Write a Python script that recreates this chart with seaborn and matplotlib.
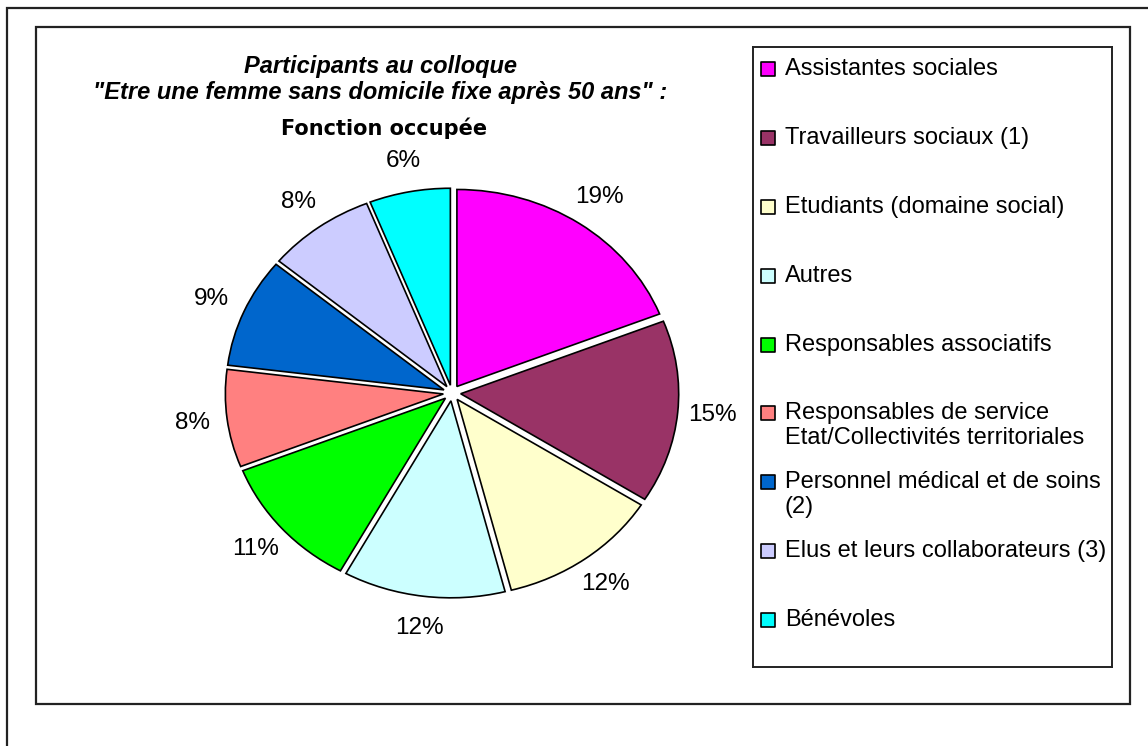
import matplotlib.pyplot as plt
import matplotlib.patches as mpatches
import seaborn as sns

# data
labels = ['Assistantes sociales', 'Travailleurs sociaux (1)', 'Etudiants (domaine social)',
          'Autres', 'Responsables associatifs',
          'Responsables de service\nEtat/Collectivités territoriales',
          'Personnel médical et de soins\n(2)', 'Elus et leurs collaborateurs (3)', 'Bénévoles']
values = [19, 15, 12, 12, 11, 8, 9, 8, 6]
colors = ['#FF00FF', '#993366', '#FFFFCC', '#CCFFFF', '#00FF00',
          '#FF8080', '#0066CC', '#CCCCFF', '#00FFFF']
title_lines = ['Participants au colloque', '"Etre une femme sans domicile fixe après 50 ans" :']
subtitle = 'Fonction occupée'

W, H = 1148, 746

sns.set_theme(style='white')
plt.rcParams['font.family'] = ['Liberation Sans', 'DejaVu Sans']
plt.rcParams['text.color'] = 'black'


def box(x0, y0, x1, y1):
    """pixel box (top-left origin) -> figure fraction rect"""
    return [x0 / W, 1 - y1 / H, (x1 - x0) / W, (y1 - y0) / H]


fig = plt.figure(figsize=(W / 100, H / 100), dpi=100)

# frames
for (x0, y0, x1, y1) in [(7, 8, 1170, 770), (36, 27, 1130, 704)]:
    r = box(x0, y0, x1, y1)
    fig.patches.append(mpatches.Rectangle((r[0], r[1]), r[2], r[3], transform=fig.transFigure,
                                          fill=False, edgecolor='#222222', linewidth=1.6))

# pie (slightly wider than tall, like the original)
cx, cy, rx, ry = 452, 393, 218, 197
ax = fig.add_axes(box(cx - 1.3 * rx, cy - 1.3 * ry, cx + 1.3 * rx, cy + 1.3 * ry))
ax.pie(values, colors=sns.color_palette(colors), startangle=90, counterclock=False,
       explode=[0.04] * len(values), autopct='%.0f%%', pctdistance=1.16,
       wedgeprops=dict(edgecolor='black', linewidth=1.2),
       textprops=dict(fontsize=17.5, color='black'))
ax.set_aspect('auto')
ax.set_xlim(-1.3, 1.3)
ax.set_ylim(-1.3, 1.3)
ax.axis('off')

# title
fig.text(380 / W, 1 - 66 / H, title_lines[0], ha='center', va='center',
         fontsize=17, fontweight='bold', fontstyle='italic')
fig.text(380 / W, 1 - 93 / H, title_lines[1], ha='center', va='center',
         fontsize=17, fontweight='bold', fontstyle='italic')
fig.text(384 / W, 1 - 128 / H, subtitle, ha='center', va='center',
         fontsize=15, fontweight='bold', family=['DejaVu Sans'])

# legend box with one slot per category
lx0, ly0, lx1, ly1 = 753, 47, 1112, 667
lax = fig.add_axes(box(lx0, ly0, lx1, ly1))
lax.set_xlim(0, lx1 - lx0)
lax.set_ylim(len(labels), 0)
lax.set_xticks([])
lax.set_yticks([])
for s in lax.spines.values():
    s.set_visible(True)
    s.set_color('#222222')
    s.set_linewidth(1.4)

slot_px = (ly1 - ly0) / len(labels)
line_gap = 25 / slot_px
for i, (lab, col) in enumerate(zip(labels, colors)):
    y = i + 0.32
    lax.scatter([15], [y], marker='s', s=90, color=col, edgecolor='black', linewidth=1.2)
    for k, line in enumerate(lab.split('\n')):
        lax.text(32, y + k * line_gap, line, ha='left', va='center', fontsize=17)

fig.savefig('out.png', dpi=100)
